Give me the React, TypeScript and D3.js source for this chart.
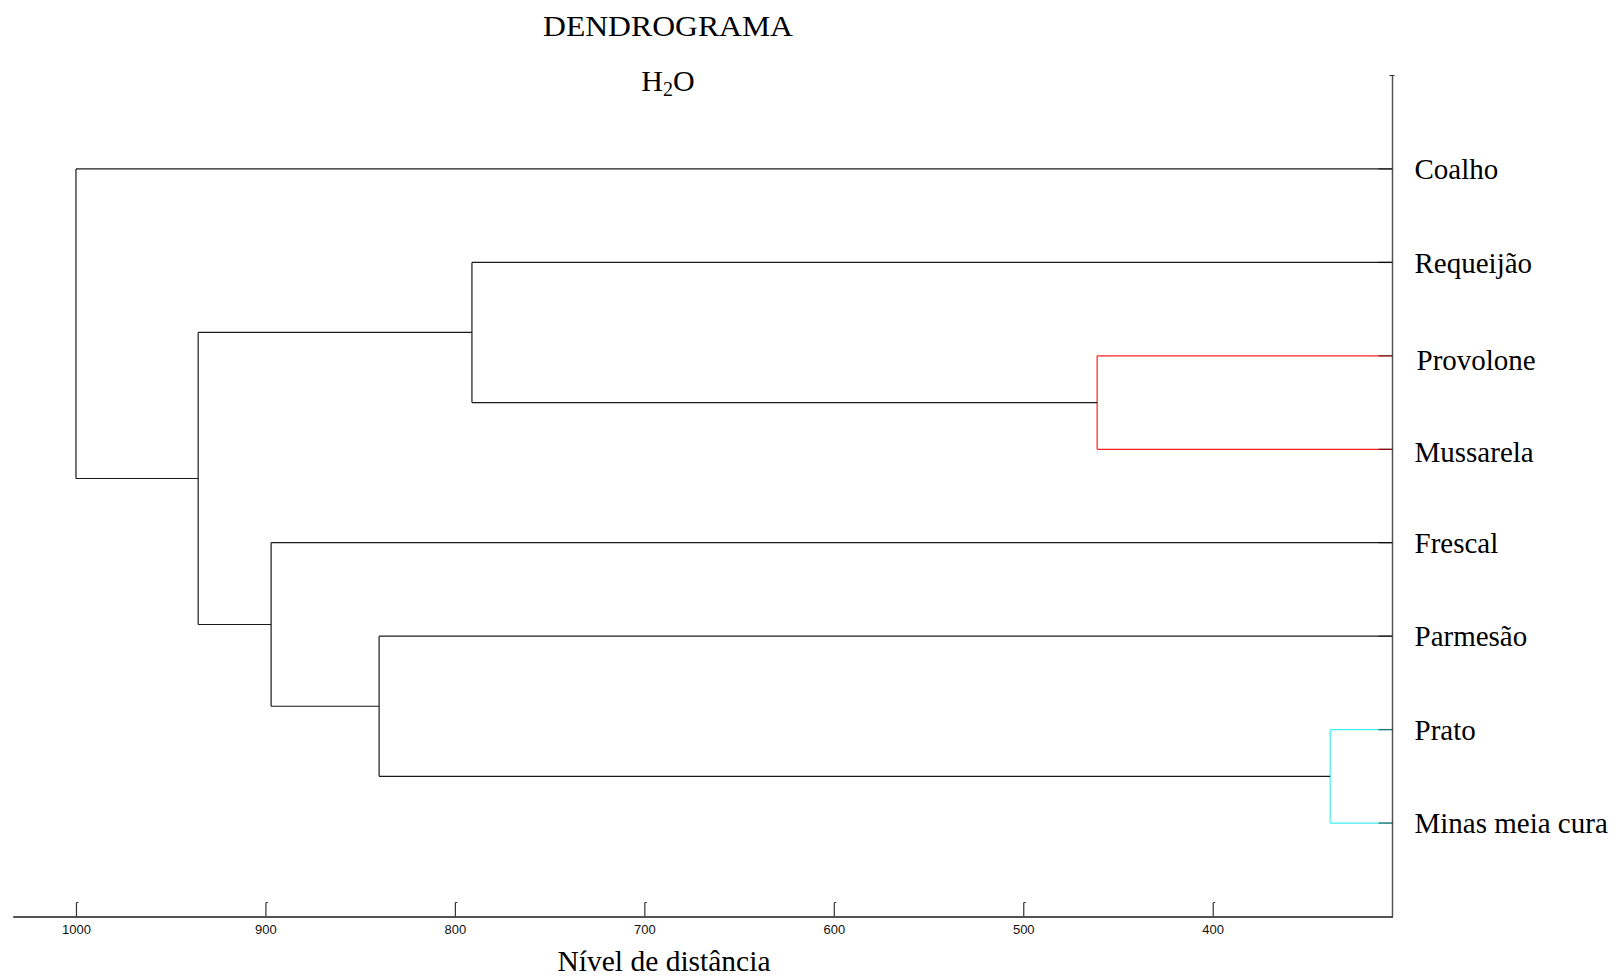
import React, { useRef, useEffect } from "react";
import * as d3 from "d3";

// leaves, top to bottom
const leafNames = ["Coalho", "Requeijão", "Provolone", "Mussarela", "Frescal", "Parmesão", "Prato", "Minas meia cura"];
// linkage: new cluster id = 8 + row index
const mergeLeft = [2, 6, 5, 1, 4, 11, 0];
const mergeRight = [3, 7, 9, 8, 10, 12, 13];
const mergeHeight = [461, 338, 840, 791, 897, 935.5, 1000];
const clusterColor: Record<number, string> = { 8: "#ff2020", 9: "#40f0f0" };
const tickValues = [1000, 900, 800, 700, 600, 500, 400];

const W = 1616;
const H = 976;

const App = () => {
  const svgRef = useRef<SVGSVGElement>(null);

  useEffect(() => {
    const svg = d3.select(svgRef.current);
    svg.selectAll("*").remove();

    const x = d3.scaleLinear().domain([1033.4, 305.1]).range([12.7, 1392.5]);
    const y = d3.scaleLinear().domain([0, 9]).range([75.5, 916.5]);
    const axisX = x.range()[1];

    // positions of every node: leaves then clusters
    const nodeY: number[] = leafNames.map((_, i) => y(i + 1));
    const nodeX: number[] = leafNames.map(() => axisX);
    mergeLeft.forEach((l, k) => {
      nodeY.push((nodeY[l] + nodeY[mergeRight[k]]) / 2);
      nodeX.push(x(mergeHeight[k]));
    });

    const lines = svg.append("g").attr("class", "links").attr("fill", "none");
    mergeLeft.forEach((l, k) => {
      const id = 8 + k;
      const color = clusterColor[id] || "#1a1a1a";
      const px = nodeX[id];
      [l, mergeRight[k]].forEach((c) => {
        // horizontal from child to parent height
        lines.append("line")
          .attr("x1", nodeX[c]).attr("x2", px)
          .attr("y1", nodeY[c]).attr("y2", nodeY[c])
          .attr("stroke", color).attr("stroke-width", 1.2);
      });
      lines.append("line")
        .attr("x1", px).attr("x2", px)
        .attr("y1", nodeY[l]).attr("y2", nodeY[mergeRight[k]])
        .attr("stroke", color).attr("stroke-width", 1.2);
    });

    // right axis
    const labelNudge: Record<string, number> = { Provolone: 4, Mussarela: 3, "Requeijão": 1 };
    const rAxis = svg.append("g").attr("class", "rightAxis");
    rAxis.append("line")
      .attr("x1", axisX).attr("x2", axisX)
      .attr("y1", y(0)).attr("y2", y(9))
      .attr("stroke", "#555").attr("stroke-width", 1.5);
    rAxis.append("line")
      .attr("x1", axisX - 3).attr("x2", axisX + 2)
      .attr("y1", y(0)).attr("y2", y(0))
      .attr("stroke", "#333").attr("stroke-width", 1);
    leafNames.forEach((name, i) => {
      rAxis.append("line")
        .attr("x1", axisX - 14).attr("x2", axisX)
        .attr("y1", y(i + 1)).attr("y2", y(i + 1))
        .attr("stroke", "#000").attr("stroke-opacity", 0.5).attr("stroke-width", 1.4);
      rAxis.append("text")
        .attr("x", axisX + (name === "Provolone" ? 24 : 22))
        .attr("y", y(i + 1) + 10 + (labelNudge[name] || 0))
        .attr("font-family", "'Liberation Serif', 'Times New Roman', serif")
        .attr("font-size", "29px")
        .attr("fill", "#000")
        .text(name);
    });

    // bottom axis
    const bAxis = svg.append("g")
      .attr("transform", `translate(0,${y(9)})`)
      .call(d3.axisBottom(x).tickValues(tickValues).tickSizeInner(-14).tickSizeOuter(0).tickPadding(8).tickFormat(d3.format("d")));
    bAxis.select(".domain").attr("stroke", "#1a1a1a").attr("stroke-width", 1.5);
    bAxis.selectAll(".tick line").attr("stroke", "#333").attr("stroke-width", 1.2);
    bAxis.selectAll(".tick").append("line")
      .attr("x1", 0).attr("x2", 2).attr("y1", -14).attr("y2", -14)
      .attr("stroke", "#333").attr("stroke-width", 1);
    bAxis.selectAll(".tick text")
      .attr("font-family", "'Liberation Sans', Arial, sans-serif")
      .attr("font-size", "13px")
      .attr("fill", "#111");

    // titles
    const titles = svg.append("g").attr("font-family", "'Liberation Serif', 'Times New Roman', serif").attr("fill", "#000");
    titles.append("text")
      .attr("x", 668).attr("y", 36)
      .attr("text-anchor", "middle")
      .attr("font-size", "30px")
      .attr("textLength", 250)
      .attr("lengthAdjust", "spacingAndGlyphs")
      .text("DENDROGRAMA");
    const h2o = titles.append("text")
      .attr("x", 668).attr("y", 91)
      .attr("text-anchor", "middle")
      .attr("font-size", "30px");
    h2o.append("tspan").text("H");
    h2o.append("tspan").attr("font-size", "20px").attr("dy", 5).text("2");
    h2o.append("tspan").attr("dy", -5).text("O");
    titles.append("text")
      .attr("x", 664).attr("y", 971)
      .attr("text-anchor", "middle")
      .attr("font-size", "29.5px")
      .text("Nível de distância");
  }, []);

  return (
    <div>
      <svg ref={svgRef} width={W} height={H} style={{ position: "absolute", left: 0, top: 0, background: "#fff" }} />
    </div>
  );
};

export default App;
